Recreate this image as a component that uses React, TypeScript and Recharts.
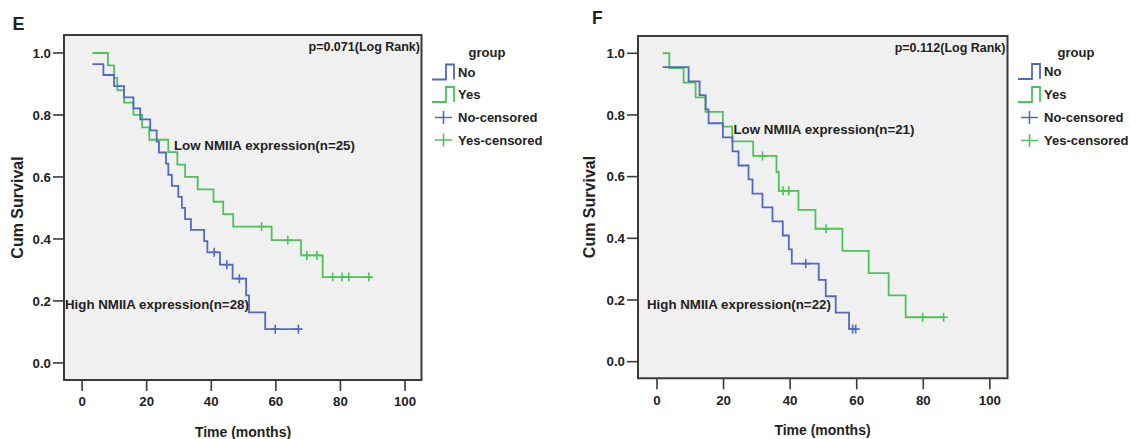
import React from 'react';
import { ComposedChart, Line, Scatter, XAxis, YAxis, ReferenceArea } from 'recharts';

// ---------- data ----------
const xTicks = [0, 20, 40, 60, 80, 100];
const yTicks = [0, 0.2, 0.4, 0.6, 0.8, 1.0];

// Panel E
const eNoTimes = [3.2, 6.6, 9.9, 13.0, 15.9, 18.0, 21.1, 23.1, 23.8, 26.0, 26.7, 27.8, 29.8, 30.9, 31.9, 33.7, 37.8, 38.8, 42.7, 46.6, 50.8, 51.7, 56.7];
const eNoSurv = [0.964, 0.929, 0.893, 0.857, 0.821, 0.786, 0.75, 0.714, 0.679, 0.643, 0.607, 0.571, 0.536, 0.5, 0.464, 0.429, 0.393, 0.357, 0.317, 0.272, 0.218, 0.163, 0.109];
const eNoCensored = [40.9, 44.8, 48.7, 59.8, 67.0];

const eYesTimes = [3.2, 8.0, 9.9, 10.9, 13.0, 15.9, 18.6, 20.8, 26.7, 29.5, 31.9, 35.8, 40.7, 43.7, 46.8, 58.7, 67.8, 74.5];
const eYesSurv = [1.0, 0.96, 0.92, 0.88, 0.84, 0.8, 0.76, 0.72, 0.68, 0.64, 0.6, 0.56, 0.52, 0.48, 0.44, 0.396, 0.347, 0.277];
const eYesCensored = [55.6, 63.7, 69.6, 72.7, 77.6, 80.5, 82.6, 88.8];

// Panel F
const fNoTimes = [1.7, 9.5, 12.8, 14.6, 15.5, 19.8, 22.7, 24.5, 27.5, 28.7, 31.7, 34.7, 37.8, 39.6, 40.5, 48.6, 50.7, 53.7, 57.7];
const fNoSurv = [0.955, 0.909, 0.864, 0.818, 0.773, 0.727, 0.682, 0.636, 0.591, 0.545, 0.5, 0.455, 0.409, 0.364, 0.318, 0.265, 0.212, 0.159, 0.106];
const fNoCensored = [44.7, 58.8, 59.7];

const fYesTimes = [1.7, 3.7, 8.0, 11.6, 14.6, 19.8, 22.6, 28.9, 35.9, 36.6, 42.5, 47.6, 55.7, 63.6, 69.6, 74.7];
const fYesSurv = [1.0, 0.952, 0.905, 0.857, 0.81, 0.762, 0.714, 0.667, 0.615, 0.554, 0.492, 0.431, 0.359, 0.287, 0.215, 0.144];
const fYesCensored = [31.7, 37.9, 39.6, 50.8, 79.8, 86.1];

const panelLetters = ['E', 'F'];
const pValues = ['p=0.071(Log Rank)', 'p=0.112(Log Rank)'];
const lowLabels = ['Low NMIIA expression(n=25)', 'Low NMIIA expression(n=21)'];
const highLabels = ['High NMIIA expression(n=28)', 'High NMIIA expression(n=22)'];
const legendTitle = 'group';
const legendNames = ['No', 'Yes', 'No-censored', 'Yes-censored'];
const yTitle = 'Cum Survival';
const xTitle = 'Time (months)';

// ---------- styling ----------
const BLUE = '#5068c6';
const GREEN = '#4cc35a';
const TEXT = '#222';
const FONT = '"Liberation Sans", Arial, sans-serif';

function stepData(times: number[], surv: number[], cens: number[]) {
  const pts = times.map((t, i) => ({ t, s: surv[i] }));
  const end = Math.max(times[times.length - 1], ...cens);
  pts.push({ t: end, s: surv[surv.length - 1] });
  return pts;
}
function censorData(times: number[], surv: number[], cens: number[]) {
  return cens.map((c) => {
    let s = surv[0];
    times.forEach((t, i) => {
      if (t <= c) s = surv[i];
    });
    return { t: c, s };
  });
}

const Cross = (color: string) => (props: any) => {
  const { cx, cy } = props;
  if (cx == null || cy == null) return <g />;
  return (
    <path
      d={`M${cx - 4},${cy}H${cx + 4}M${cx},${cy - 4.5}V${cy + 4.5}`}
      stroke={color}
      strokeWidth={1.6}
      fill="none"
    />
  );
};

type PanelProps = {
  left: number;
  width: number;
  margin: { top: number; right: number; bottom: number; left: number };
  xAxisHeight: number;
  xDomain: [number, number];
  yDomain: [number, number];
  no: { t: number; s: number }[];
  noC: { t: number; s: number }[];
  yes: { t: number; s: number }[];
  yesC: { t: number; s: number }[];
};

const tickStyle = { fontSize: 13.3, fontWeight: 700, fill: TEXT, fontFamily: FONT };

function Panel(p: PanelProps) {
  return (
    <div style={{ position: 'absolute', left: p.left, top: 0, width: p.width, height: 439 }}>
      <ComposedChart width={p.width} height={439} margin={p.margin}>
        <XAxis
          type="number"
          dataKey="t"
          domain={p.xDomain}
          ticks={xTicks}
          allowDataOverflow
          axisLine={false}
          tickLine={{ stroke: '#3a3a3a', strokeWidth: 1.6 }}
          tickSize={11}
          tickMargin={6}
          height={p.xAxisHeight}
          tick={tickStyle}
          interval={0}
        />
        <YAxis
          type="number"
          dataKey="s"
          domain={p.yDomain}
          ticks={yTicks}
          allowDataOverflow
          axisLine={false}
          tickLine={{ stroke: '#3a3a3a', strokeWidth: 1.6 }}
          tickSize={11}
          tickMargin={2}
          width={50}
          tick={tickStyle}
          tickFormatter={(v: number) => v.toFixed(1)}
          interval={0}
        />
        <ReferenceArea
          x1={p.xDomain[0]}
          x2={p.xDomain[1]}
          y1={p.yDomain[0]}
          y2={p.yDomain[1]}
          fill="#f0f0f0"
          fillOpacity={1}
          stroke="#3a3a3a"
          strokeWidth={2}
        />
        <Line
          data={p.yes}
          dataKey="s"
          type="stepAfter"
          stroke={GREEN}
          strokeWidth={1.8}
          dot={false}
          isAnimationActive={false}
        />
        <Line
          data={p.no}
          dataKey="s"
          type="stepAfter"
          stroke={BLUE}
          strokeWidth={1.8}
          dot={false}
          isAnimationActive={false}
        />
        <Scatter data={p.noC} dataKey="s" shape={Cross(BLUE)} isAnimationActive={false} />
        <Scatter data={p.yesC} dataKey="s" shape={Cross(GREEN)} isAnimationActive={false} />
      </ComposedChart>
    </div>
  );
}

function LegendBlock({ x0, titleX, ys }: { x0: number; titleX: number; ys: number[] }) {
  const txtX = x0 + 26;
  const stepIcon = (cy: number, color: string) => (
    <path
      d={`M${x0},${cy + 8} H${x0 + 14} V${cy - 7} H${x0 + 22} V${cy + 8}`}
      stroke={color}
      strokeWidth={1.8}
      fill="none"
    />
  );
  const cross = (cy: number, color: string) => (
    <path
      d={`M${x0 + 3},${cy} H${x0 + 20} M${x0 + 11.5},${cy - 6.5} V${cy + 6.5}`}
      stroke={color}
      strokeWidth={1.6}
      fill="none"
    />
  );
  const colors = [BLUE, GREEN, BLUE, GREEN];
  return (
    <g>
      <text x={titleX} y={57} textAnchor="middle" style={{ fontSize: 13, fontWeight: 700, fill: TEXT, fontFamily: FONT }}>
        {legendTitle}
      </text>
      {legendNames.map((n, i) => (
        <g key={n}>
          {i < 2 ? stepIcon(ys[i] - 0.5, colors[i]) : cross(ys[i], colors[i])}
          <text x={txtX} y={ys[i] + 4.6} style={{ fontSize: 13, fontWeight: 700, fill: TEXT, fontFamily: FONT }}>
            {n}
          </text>
        </g>
      ))}
    </g>
  );
}

export default function App() {
  const eNo = stepData(eNoTimes, eNoSurv, eNoCensored);
  const eNoC = censorData(eNoTimes, eNoSurv, eNoCensored);
  const eYes = stepData(eYesTimes, eYesSurv, eYesCensored);
  const eYesC = censorData(eYesTimes, eYesSurv, eYesCensored);
  const fNo = stepData(fNoTimes, fNoSurv, fNoCensored);
  const fNoC = censorData(fNoTimes, fNoSurv, fNoCensored);
  const fYes = stepData(fYesTimes, fYesSurv, fYesCensored);
  const fYesC = censorData(fYesTimes, fYesSurv, fYesCensored);

  const bold13 = { fontSize: 13.3, fontWeight: 700, fill: TEXT, fontFamily: FONT } as const;
  const pStyle = { fontSize: 12.5, fontWeight: 700, fill: TEXT, fontFamily: FONT } as const;

  return (
    <div
      style={{
        position: 'absolute',
        left: 0,
        top: 0,
        width: 1130,
        height: 439,
        background: '#fff',
        overflow: 'hidden',
        fontFamily: FONT,
      }}
    >
      <Panel
        left={0}
        width={565}
        margin={{ top: 35, right: 143.5, bottom: 0, left: 14 }}
        xAxisHeight={59}
        xDomain={[-5.6, 105.1]}
        yDomain={[-0.055, 1.058]}
        no={eNo}
        noC={eNoC}
        yes={eYes}
        yesC={eYesC}
      />
      <Panel
        left={570}
        width={560}
        margin={{ top: 36, right: 122.5, bottom: 0, left: 18 }}
        xAxisHeight={60.7}
        xDomain={[-5.7, 105.3]}
        yDomain={[-0.054, 1.056]}
        no={fNo}
        noC={fNoC}
        yes={fYes}
        yesC={fYesC}
      />
      <svg
        width={1130}
        height={439}
        style={{ position: 'absolute', left: 0, top: 0, pointerEvents: 'none' }}
      >
        {/* panel letters */}
        <text x={12.5} y={30} style={{ fontSize: 18, fontWeight: 700, fill: TEXT, fontFamily: FONT }}>{panelLetters[0]}</text>
        <text x={592} y={24.3} style={{ fontSize: 17.5, fontWeight: 700, fill: TEXT, fontFamily: FONT }}>{panelLetters[1]}</text>

        {/* p values */}
        <text x={420} y={51} textAnchor="end" style={pStyle}>{pValues[0]}</text>
        <text x={1005.5} y={51.5} textAnchor="end" style={pStyle}>{pValues[1]}</text>

        {/* group annotations */}
        <text x={174} y={149.6} style={bold13}>{lowLabels[0]}</text>
        <text x={65} y={308.6} style={bold13}>{highLabels[0]}</text>
        <text x={733.5} y={133.6} style={bold13}>{lowLabels[1]}</text>
        <text x={647} y={308.6} style={bold13}>{highLabels[1]}</text>

        {/* axis titles */}
        <text
          transform="translate(23,207.5) rotate(-90)"
          textAnchor="middle"
          style={{ fontSize: 16, fontWeight: 700, fill: TEXT, fontFamily: FONT }}
        >
          {yTitle}
        </text>
        <text
          transform="translate(595,207) rotate(-90)"
          textAnchor="middle"
          style={{ fontSize: 16, fontWeight: 700, fill: TEXT, fontFamily: FONT }}
        >
          {yTitle}
        </text>
        <text x={243} y={437} textAnchor="middle" style={{ fontSize: 14, fontWeight: 700, fill: TEXT, fontFamily: FONT }}>
          {xTitle}
        </text>
        <text x={822.5} y={435} textAnchor="middle" style={{ fontSize: 14, fontWeight: 700, fill: TEXT, fontFamily: FONT }}>
          {xTitle}
        </text>

        {/* legends */}
        <LegendBlock x0={432} titleX={487} ys={[72, 94.5, 117.5, 140]} />
        <LegendBlock x0={1018} titleX={1076} ys={[71.5, 94.5, 117.5, 140.5]} />
      </svg>
    </div>
  );
}
